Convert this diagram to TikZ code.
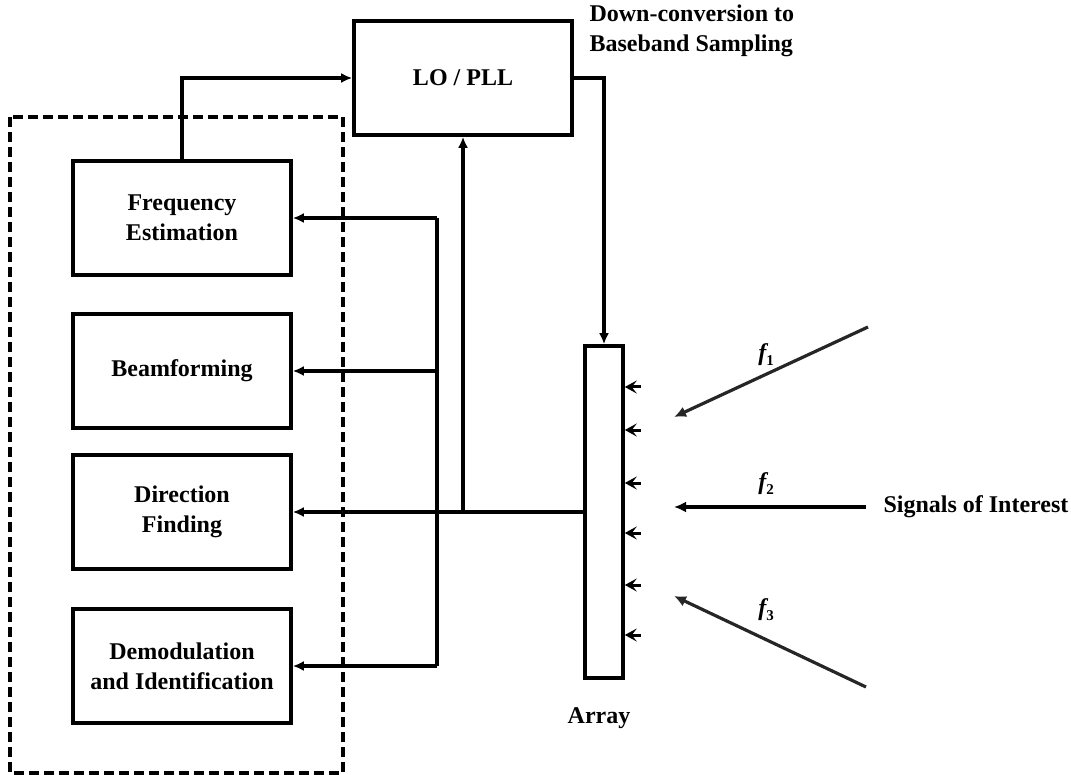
\documentclass[tikz,border=0pt]{standalone}
\usepackage{fontspec}
\setmainfont{Liberation Serif}
\usetikzlibrary{arrows.meta}
\newcommand{\fsub}[1]{{\itshape f}\raisebox{-5pt}{\fontsize{15}{15}\selectfont #1}}
\begin{document}
\begin{tikzpicture}[x=1pt,y=-1pt,
  every node/.style={font=\bfseries\fontsize{24}{30}\selectfont},
  blk/.style={draw,line width=3.6pt,minimum width=218pt,minimum height=114pt,align=center,inner sep=0pt},
  conn/.style={line width=3.6pt},
  arr/.style={conn,-{Latex[length=11pt,width=10pt]}},
  sig/.style={line width=3.2pt,black!85,-{Latex[length=12pt,width=11pt]}},
  frame/.style={draw,line width=3.6pt,dash pattern=on 10pt off 5pt},
  elem/.style={line width=3pt,-{Stealth[length=12pt,width=13pt,inset=5pt]}}]
\useasboundingbox (0,0) rectangle (1071,775);
% group frame
\draw[frame] (10,117) rectangle (343,773);
% blocks
\node[blk] (freq) at (182,218) {Frequency\\Estimation};
\node[blk] (beam) at (182,371) {Beamforming};
\node[blk] (dir) at (182,512) {Direction\\Finding};
\node[blk] (demod) at (182,666) {Demodulation\\and Identification};
\node[blk] (lo) at (463,78) {LO / PLL};
\node[draw,line width=3.6pt,minimum width=38pt,minimum height=332pt,inner sep=0pt] (array) at (604,512) {};
% labels
\node[anchor=west,align=left] (down) at (586,31) {Down-conversion to\\Baseband Sampling};
\node (arrlbl) at (599,718) {Array};
\node[anchor=west] (soi) at (880,507) {Signals of Interest};
% connectors
\draw[arr] (freq.north) |- (lo.west);
\draw[arr] (lo.east) -| (array.north);
\draw[arr] (array.west) -- (array.west -| dir.east);
\coordinate (J) at (lo.south |- array.west);
\draw[arr] (J) -- (lo.south);
\coordinate (bt) at (437,218);
\coordinate (bb) at (437,666);
\draw[conn] (bt) -- (bb);
\draw[arr] (bt) -- (bt -| freq.east);
\draw[arr] (bt |- beam.east) -- (beam.east);
\draw[arr] (bb) -- (bb -| demod.east);
% array elements
\foreach \yy in {387,430,483,533,585,635}{
  \draw[elem] (641,\yy) -- (array.east |- 0,\yy);
}
% signals
\coordinate (s1) at (868,327);
\coordinate (t1) at (674,417);
\coordinate (s2) at (866,507);
\coordinate (t2) at (674,507);
\coordinate (s3) at (866,687);
\coordinate (t3) at (674,596);
\draw[sig] (s1) -- (t1);
\draw[sig,black] (s2) -- (t2);
\draw[sig] (s3) -- (t3);
\node (lf1) at (766,355) {\fsub{1}};
\node (lf2) at (766,484) {\fsub{2}};
\node (lf3) at (766,610) {\fsub{3}};
\end{tikzpicture}
\end{document}
